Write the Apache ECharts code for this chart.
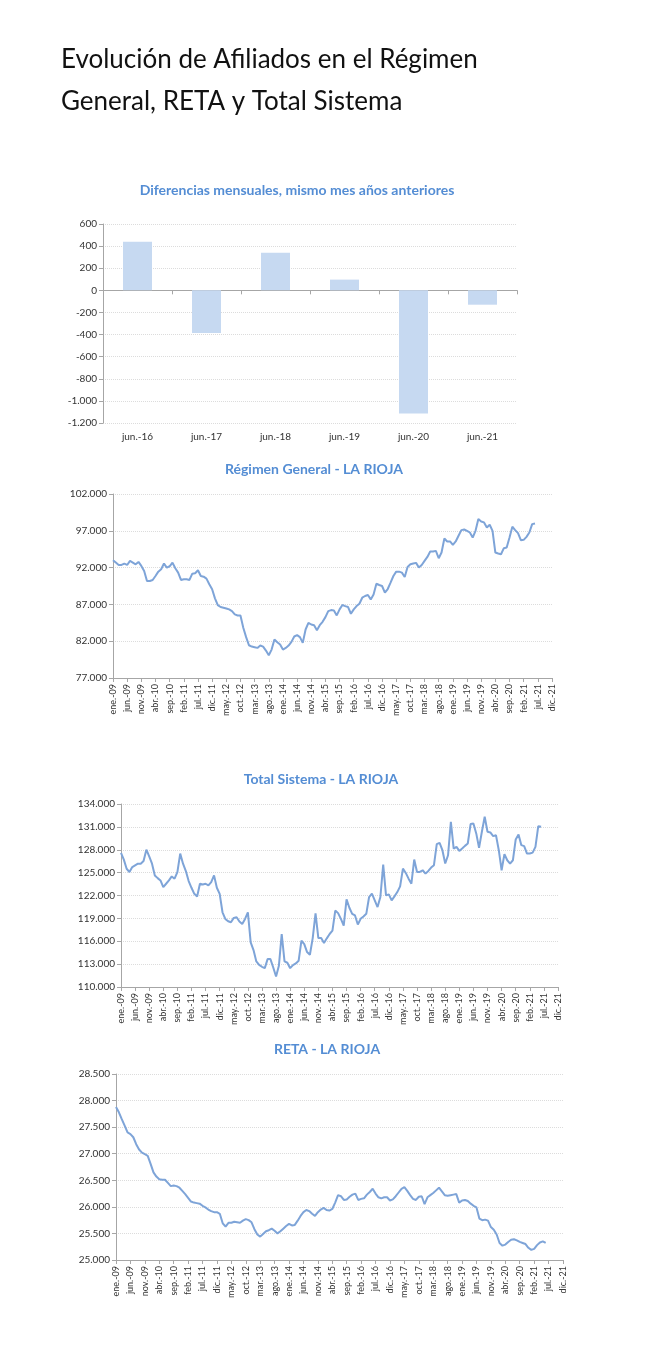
<!DOCTYPE html>
<html>
<head>
<meta charset="utf-8">
<script src="https://cdn.jsdelivr.net/npm/echarts@6/dist/echarts.min.js"></script>
<style>
html,body{margin:0;padding:0;background:#fff;}
#c{width:657px;height:1350px;}
</style>
</head>
<body>
<div id="c"></div>
<script>
// ---- data ----
const monthAbbr = ['ene.','feb.','mar.','abr.','may.','jun.','jul.','ago.','sep.','oct.','nov.','dic.'];
const yearsShort = ['09','10','11','12','13','14','15','16','17','18','19','20','21'];
const monthCategories = [];
yearsShort.forEach(y => monthAbbr.forEach(m => monthCategories.push(m + '-' + y)));

const barCategories = ['jun.-16','jun.-17','jun.-18','jun.-19','jun.-20','jun.-21'];
const barValues = [440, -386, 341, 97, -1113, -130];

const regimenGeneral = [
93000,92680,92360,92360,92550,92360,92910,92680,92450,92770,92230,91550,
90180,90180,90320,90860,91450,91770,92550,92000,92180,92680,91910,91320,
90320,90410,90410,90320,91180,91230,91640,90860,90770,90500,89730,89050,
87820,86910,86640,86550,86450,86320,86090,85640,85500,85500,83820,82550,
81450,81270,81180,81090,81410,81270,80730,80090,80860,82230,81860,81550,
80860,81090,81410,81910,82640,82820,82550,81770,83590,84500,84270,84180,
83500,84180,84640,85270,86090,86230,86180,85500,86320,86910,86770,86640,
85730,86320,86770,87090,87910,88140,88270,87680,88360,89820,89640,89500,
88590,89090,89950,90860,91450,91450,91320,90730,92090,92450,92550,92640,
92000,92360,92910,93450,94180,94180,94270,93270,94050,95950,95550,95550,
95090,95550,96320,97090,97180,97000,96770,96090,97000,98590,98270,98140,
97450,97820,97000,94050,93910,93820,94640,94730,96090,97550,97090,96680,
95730,95770,96180,96770,97910,98000
];

const totalSistema = [
127580,126700,125510,125070,125730,125950,126170,126170,126520,128010,127140,126170,
124630,124280,123980,123100,123540,123980,124500,124200,125070,127490,126170,125200,
123890,123010,122220,121870,123540,123450,123540,123320,123760,124640,123010,122220,
119800,118930,118620,118490,119060,119150,118580,118270,118930,119800,115850,114840,
113350,112910,112650,112470,113660,113660,112560,111380,112780,116950,113350,113180,
112470,112870,113090,113440,116070,115630,114580,114230,116420,119670,116420,116420,
115760,116380,116950,117390,120030,119690,118940,118060,121490,120390,119600,119380,
118200,118940,119250,119600,121800,122240,121360,120480,121800,126050,122020,122150,
121360,121880,122450,123200,125530,124960,124210,123550,126710,125090,125090,125310,
124870,125220,125660,125970,128730,128910,127940,126190,127280,131670,128160,128380,
127850,128160,128510,128820,131370,131450,130140,128250,130360,132330,130360,130270,
129790,129920,127940,125310,127420,126620,126190,126620,129350,130010,128600,128470,
127500,127500,127630,128380,131100,131010
];

const reta = [
27880,27780,27650,27530,27400,27370,27310,27180,27080,27020,26990,26960,
26810,26650,26570,26520,26510,26510,26450,26390,26400,26390,26360,26300,
26240,26170,26100,26080,26070,26060,26020,25990,25950,25920,25900,25900,
25870,25690,25630,25700,25700,25720,25710,25700,25740,25770,25750,25710,
25580,25480,25440,25490,25540,25560,25590,25550,25500,25540,25590,25640,
25680,25650,25660,25740,25830,25900,25940,25920,25870,25830,25900,25950,
25980,25940,25930,25960,26080,26220,26200,26130,26140,26190,26230,26250,
26130,26150,26160,26230,26280,26340,26250,26180,26160,26180,26180,26120,
26140,26200,26270,26340,26370,26300,26220,26150,26130,26190,26200,26050,
26180,26220,26260,26310,26360,26290,26220,26210,26220,26230,26240,26080,
26120,26130,26110,26060,26020,25990,25780,25750,25760,25740,25620,25570,
25480,25320,25270,25290,25340,25380,25390,25370,25340,25320,25300,25230,
25190,25210,25280,25330,25350,25320
];

// ---- styling ----
const FONT = 'Lato, "Open Sans", sans-serif';
const titleBlue = '#548DD4';
const lineBlue = '#7EA4D8';
const axisGray = '#A6A6A6';
const gridGray = '#DCDCDC';
const labelColor = '#333333';

function fmt(v){
  const s = String(Math.abs(Math.round(v))).replace(/\B(?=(\d{3})+(?!\d))/g, '.');
  return (v < 0 ? '-' : '') + s;
}

function chartTitle(text, x, y){
  return {text, left: x, top: y, textAlign: 'center', padding: 0,
    textStyle:{color: titleBlue, fontSize: 14, fontWeight: 'bold', fontFamily: FONT}};
}

function lineX(gi){
  return {type:'category', gridIndex: gi, data: monthCategories, boundaryGap: false,
    axisLine:{lineStyle:{color: axisGray, width: 1}},
    axisTick:{show:true, interval: 4, length: 4, lineStyle:{color: axisGray}},
    axisLabel:{interval: 4, rotate: 90, fontSize: 9, color: labelColor, fontFamily: FONT, margin: 6},
    splitLine:{show:false}};
}
function lineY(gi, min, max, interval){
  return {type:'value', gridIndex: gi, min, max, interval,
    axisLine:{show:true, lineStyle:{color: axisGray}},
    axisTick:{show:true, length: 4, lineStyle:{color: axisGray}},
    axisLabel:{formatter: fmt, fontSize: 10, color: labelColor, fontFamily: FONT, margin: 6},
    splitLine:{show:true, lineStyle:{color: gridGray, type:'dotted', width: 1}}};
}
function lineSeries(gi, data){
  return {type:'line', xAxisIndex: gi, yAxisIndex: gi, data, showSymbol: false, symbol:'none',
    lineStyle:{color: lineBlue, width: 2}, itemStyle:{color: lineBlue}, animation:false};
}

const option = {
  backgroundColor: '#ffffff',
  animation: false,
  title: [
    {text: 'Evolución de Afiliados en el Régimen\nGeneral, RETA y Total Sistema', left: 61, top: 39, padding: 0,
      textStyle:{color:'#111111', fontSize: 26, fontWeight:'normal', fontFamily: FONT, lineHeight: 42}},
    chartTitle('Diferencias mensuales, mismo mes años anteriores', 297, 183),
    chartTitle('Régimen General - LA RIOJA', 314, 462),
    chartTitle('Total Sistema - LA RIOJA', 321, 772),
    chartTitle('RETA - LA RIOJA', 327, 1042)
  ],
  grid: [
    {left: 103, top: 224, width: 414, height: 199},
    {left: 113, top: 494, width: 439, height: 184},
    {left: 121, top: 804, width: 437, height: 183},
    {left: 116, top: 1074, width: 447, height: 186},
    {left: 103, top: 224, width: 414, height: 199}
  ],
  xAxis: [
    {type:'category', gridIndex:0, data: barCategories,
      axisLine:{show:false, onZero:false}, axisTick:{show:false},
      axisLabel:{fontSize: 10, color: labelColor, fontFamily: FONT, margin: 9}},
    lineX(1), lineX(2), lineX(3),
    {type:'category', gridIndex:4, data: barCategories,
      axisLine:{show:true, onZero:true, lineStyle:{color: axisGray}},
      axisTick:{show:true, length: 4, lineStyle:{color: axisGray}},
      axisLabel:{show:false}}
  ],
  yAxis: [
    {type:'value', gridIndex:0, min:-1200, max:600, interval:200,
      axisLine:{show:true, lineStyle:{color: axisGray}},
      axisTick:{show:true, length: 4, lineStyle:{color: axisGray}},
      axisLabel:{formatter: fmt, fontSize: 10, color: labelColor, fontFamily: FONT, margin: 6},
      splitLine:{show:true, lineStyle:{color: gridGray, type:'dotted'}}},
    lineY(1, 77000, 102000, 5000),
    lineY(2, 110000, 134000, 3000),
    lineY(3, 25000, 28500, 500),
    {type:'value', gridIndex:4, min:-1200, max:600, interval:200, show:false}
  ],
  series: [
    {type:'bar', xAxisIndex:0, yAxisIndex:0, data: barValues, barWidth: 29,
      itemStyle:{color:'#C6D9F1'}, animation:false},
    lineSeries(1, regimenGeneral),
    lineSeries(2, totalSistema),
    lineSeries(3, reta)
  ]
};

const chart = echarts.init(document.getElementById('c'), null, {renderer:'canvas'});
chart.setOption(option);
</script>
</body>
</html>
